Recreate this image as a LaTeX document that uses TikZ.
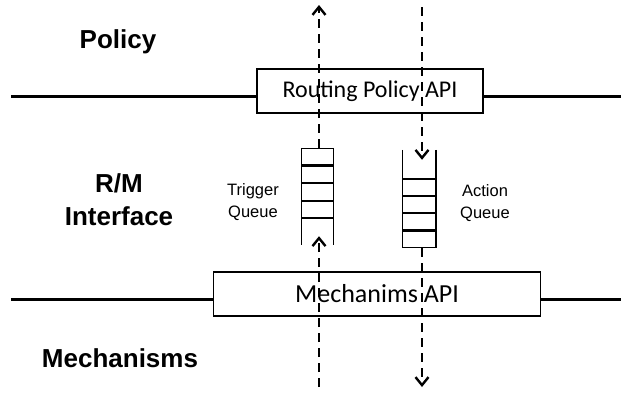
\documentclass[tikz,border=0pt]{standalone}
\usepackage{fontspec}
\newfontfamily\labelfont{Liberation Sans}
\newfontfamily\apifont{Carlito}
\usepackage{tikz}
\usetikzlibrary{arrows.meta}

\begin{document}
\begin{tikzpicture}[x=1pt,y=-1pt,
    layer/.style={line width=3pt},
    apibox/.style={draw,line width=1.3pt,fill=white,inner sep=0pt,font=\apifont\fontsize{26}{30}\selectfont},
    slot/.style={draw,line width=1.4pt,minimum width=31.5pt,minimum height=16.5pt,inner sep=0pt},
    flow/.style={dash pattern=on 9pt off 6pt,line width=1.3pt,-{Straight Barb[length=8pt,width=13pt,line width=2.4pt]}},
    side/.style={font=\labelfont\bfseries\fontsize{26}{33}\selectfont,align=center},
    qlabel/.style={font=\labelfont\fontsize{16.5}{22.3}\selectfont,align=center}]
    \useasboundingbox (0,0) rectangle (621,392);
    % layers
    \node[side] (policy) at (118,42) {Policy};
    \node[side] (rmif) at (119,200) {R/M\\Interface};
    \node[side] (mech) at (120,358) {Mechanisms};
    \coordinate (toplayer) at (11,96);
    \coordinate (botlayer) at (11,299);
    \node[apibox,minimum width=226pt,minimum height=44pt,font=\apifont\fontsize{24}{28}\selectfont] (rpapi) at (370,91) {Routing Policy API};
    \node[apibox,minimum width=327pt,minimum height=44pt] (mapi) at (377,294) {Mechanims API};
    \draw[layer] (toplayer) -- (toplayer -| rpapi.west);
    \draw[layer] (toplayer -| rpapi.east) -- (toplayer -| 621,0);
    \draw[layer] (botlayer) -- (botlayer -| mapi.west);
    \draw[layer] (botlayer -| mapi.east) -- (botlayer -| 621,0);
    % queues
    \node[minimum width=31.5pt,minimum height=97pt,inner sep=0pt] (tq) at (317.5,196.5) {};
    \node[minimum width=33pt,minimum height=98pt,inner sep=0pt] (aq) at (419.2,199) {};
    \draw[line width=1.4pt] (tq.north west) -- (tq.south west) (tq.north east) -- (tq.south east);
    \draw[line width=1.4pt] (aq.north west) -- (aq.south west) (aq.north east) -- (aq.south east);
    \foreach \i in {0,...,3} {
      \node[slot,anchor=north] (tq\i) at ([yshift=-\i*17.6pt]tq.north) {};
      \node[slot,minimum width=33pt,anchor=south] (aq\i) at ([yshift=\i*17.4pt]aq.south) {};
    }
    \node[qlabel] (tqlabel) at (253,202) {Trigger\\Queue};
    \node[qlabel] (aqlabel) at (485,203) {Action\\Queue};
    % flows
    \coordinate (ttop) at (319,5);
    \coordinate (tbot) at (319,387);
    \coordinate (atop) at (422,7);
    \coordinate (abot) at (422,387);
    \draw[flow] (tbot) -- ([yshift=9pt]tbot |- tq.south);
    \draw[flow] (tbot |- tq.north) -- (ttop);
    \draw[flow] (atop) -- ([yshift=-10pt]atop |- aq.north);
    \draw[flow] (atop |- aq.south) -- (abot);
  \end{tikzpicture}
\end{document}
